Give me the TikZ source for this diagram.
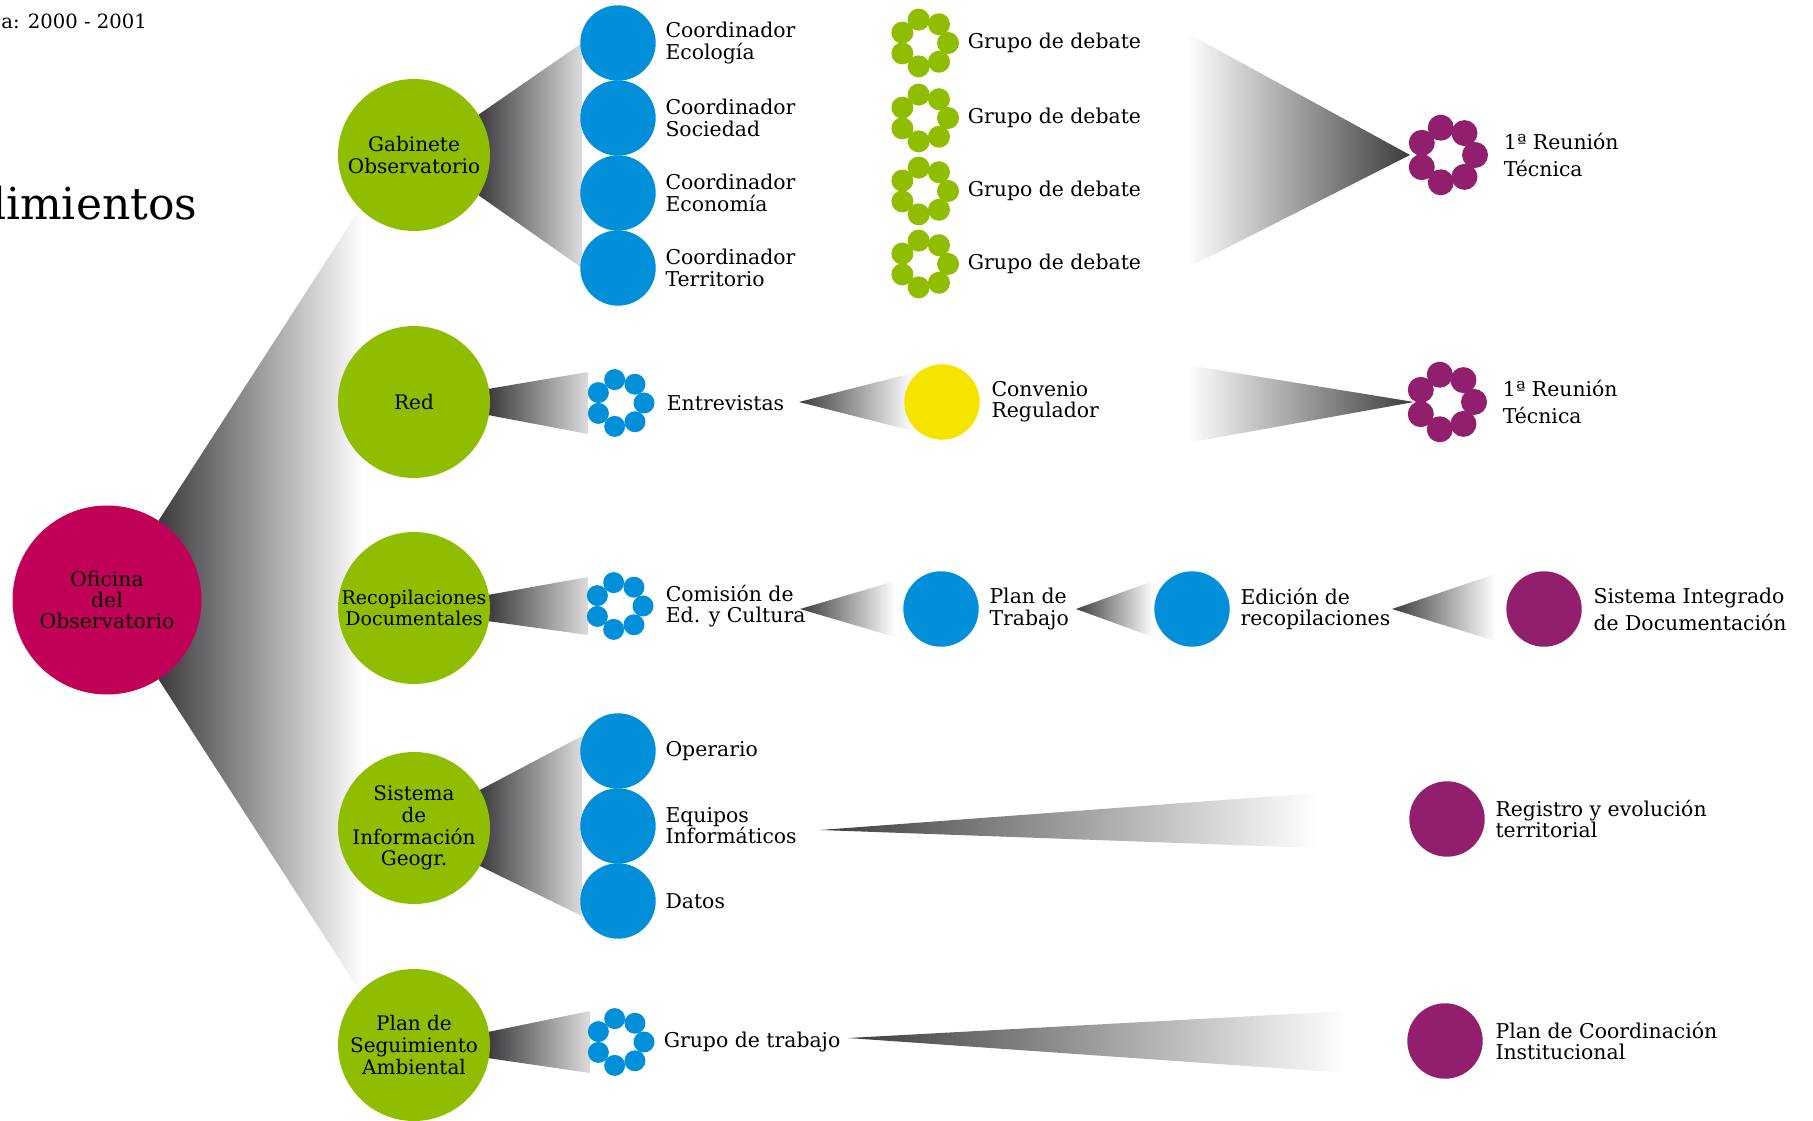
\documentclass[tikz,border=0pt]{standalone}
\usepackage{fontspec}
\setmainfont{DejaVu Serif}
\usetikzlibrary{positioning,backgrounds}

\definecolor{magobs}{RGB}{193,0,88}
\definecolor{greenobs}{RGB}{143,190,0}
\definecolor{blueobs}{RGB}{0,143,216}
\definecolor{purpobs}{RGB}{146,31,110}
\definecolor{yellowobs}{RGB}{245,228,0}
\definecolor{shadow}{RGB}{60,60,62}

\begin{document}
\begin{tikzpicture}[
        x=1pt, y=1pt,
        hub/.style={circle, fill=magobs, minimum size=94.5pt, inner sep=0, align=center, font=\fontsize{10.2}{10.6}\selectfont},
        area/.style={circle, fill=greenobs, minimum size=76pt, inner sep=0, align=center, font=\fontsize{10}{10.85}\selectfont},
        agent/.style={circle, fill=blueobs, minimum size=37.7pt, inner sep=0},
        result/.style={circle, fill=purpobs, minimum size=37.7pt, inner sep=0},
        ringspot/.style={circle, minimum size=35pt, inner sep=0},
        bigspot/.style={circle, minimum size=41pt, inner sep=0},
        lbl/.style={inner sep=0, align=left, font=\fontsize{10.2}{10.6}\selectfont},
        widelbl/.style={inner sep=0, align=left, font=\fontsize{10.2}{13.5}\selectfont},
        fanout/.style={left color=shadow, right color=white},
        fanin/.style={left color=white, right color=shadow}
    ]
    \useasboundingbox (0,0) rectangle (906.5,560);

    % Heading, cut by the page border
    \node (period) at (0.5,545.5) [anchor=base west, inner sep=0, font=\fontsize{9.8}{11}\selectfont] {a: 2000 - 2001};
    \node (heading) at (98.8,450) [anchor=base east, inner sep=0, font=\fontsize{22}{24}\selectfont] {dimientos};

    % Office and working areas
    \node (ofi) at (53.5,260) [hub] {Oficina\\del\\Observatorio};
    \node (gab) at (207,482.5) [area] {Gabinete\\Observatorio};
    \node (net) at (207,359) [area] {Red};
    \node (rec) at (207,256) [area, font=\fontsize{9.5}{10.85}\selectfont] {Recopilaciones\\Documentales};
    \node (sig) at (207,146) [area] {Sistema\\de\\Información\\Geogr.};
    \node (pla) at (207,37.5) [area] {Plan de\\Seguimiento\\Ambiental};

    % Gabinete: coordinators, debate groups, first meeting
    \node (eco) at (309,538.5) [agent] {};
    \node (soc) at (309,501) [agent] {};
    \node (ecn) at (309,463.5) [agent] {};
    \node (ter) at (309,426) [agent] {};
    \node (ecotxt) [lbl, right=4.5pt of eco] {Coordinador\\Ecología};
    \node (soctxt) [lbl, right=4.5pt of soc] {Coordinador\\Sociedad};
    \node (ecntxt) [lbl, right=4.5pt of ecn] {Coordinador\\Economía};
    \node (tertxt) [lbl, right=4.5pt of ter] {Coordinador\\Territorio};

    \node (gd1) at (462,538.5) [ringspot] {};
    \node (gd2) at (462,501) [ringspot] {};
    \node (gd3) at (462,464.5) [ringspot] {};
    \node (gd4) at (462,428) [ringspot] {};
    \foreach \g in {gd1,gd2,gd3,gd4}
        \node (lbl\g) [lbl, right=4pt of \g] {Grupo de debate};

    \node (reu1) at (723.5,482.5) [bigspot] {};
    \node (reu1txt) [widelbl, right=7.5pt of reu1] {1ª Reunión\\Técnica};

    % Red
    \node (ent) at (310,358.5) [ringspot] {};
    \node (enttxt) [lbl, right=5.5pt of ent] {Entrevistas};
    \node (conv) at (471,359) [agent, fill=yellowobs] {};
    \node (convtxt) [lbl, right=5.5pt of conv] {Convenio\\Regulador};
    \node (reu2) at (723,359) [bigspot] {};
    \node (reu2txt) [widelbl, right=7.5pt of reu2] {1ª Reunión\\Técnica};

    % Recopilaciones
    \node (com) at (309.5,257) [ringspot] {};
    \node (comtxt) [lbl, right=5.5pt of com] {Comisión de\\Ed. y Cultura};
    \node (ptr) at (470.5,255.5) [agent] {};
    \node (ptrtxt) [lbl, right=5pt of ptr] {Plan de\\Trabajo};
    \node (edi) at (596,255.5) [agent] {};
    \node (editxt) [lbl, right=5pt of edi] {Edición de\\recopilaciones};
    \node (sid) at (772,255.5) [result] {};
    \node (sidtxt) [widelbl, right=5.5pt of sid] {Sistema Integrado\\de Documentación};

    % Sistema de Informacion
    \node (ope) at (309,184.5) [agent] {};
    \node (equ) at (309,147) [agent] {};
    \node (dat) at (309,109.5) [agent] {};
    \node (opetxt) [lbl, right=4.5pt of ope] {Operario};
    \node (equtxt) [lbl, right=4.5pt of equ] {Equipos\\Informáticos};
    \node (dattxt) [lbl, right=4.5pt of dat] {Datos};
    \node (reg) at (723.5,150.5) [result] {};
    \node (regtxt) [lbl, right=5pt of reg] {Registro y evolución\\territorial};

    % Plan de Seguimiento
    \node (gtr) at (310,39) [ringspot] {};
    \node (gtrtxt) [lbl, right=4pt of gtr] {Grupo de trabajo};
    \node (pco) at (722.5,39.5) [result] {};
    \node (pcotxt) [lbl, right=6pt of pco] {Plan de Coordinación\\Institucional};

    % Rings of small circles
    \foreach \s in {gd1,gd2,gd3,gd4}
        \foreach \k in {0,...,6}
            \fill[greenobs] (\s.center) ++(\k*360/7:12pt) circle[radius=5.5pt];
    \foreach \s in {ent,com,gtr}
        \foreach \k in {0,...,6}
            \fill[blueobs] (\s.center) ++(\k*360/7:12pt) circle[radius=5.25pt];
    \foreach \s in {reu1,reu2}
        \foreach \k in {0,...,6}
            \fill[purpobs] (\s.center) ++(\k*360/7:14pt) circle[radius=6.5pt];

    % Fans behind the circles
    \begin{scope}[on background layer]
        \shade[fanout] (ofi.57) -- ([shift={(-25.5pt,-24.5pt)}]gab.center) -- ([shift={(-25.5pt,24.5pt)}]pla.center) -- (ofi.-57) -- cycle;
        \shade[fanout, right color=shadow!18] (gab.32) -- ([xshift=-18pt]eco.center) -- ([xshift=-18pt]ter.center) -- (gab.-32) -- cycle;
        \shade[fanout, right color=shadow!18] (net.10) -- ([shift={(-16pt,15.5pt)}]ent.center) -- ([shift={(-16pt,-15.5pt)}]ent.center) -- (net.-10) -- cycle;
        \shade[fanout, right color=shadow!18] (rec.10) -- ([shift={(-15.5pt,14.5pt)}]com.center) -- ([shift={(-15.5pt,-14.5pt)}]com.center) -- (rec.-10) -- cycle;
        \shade[fanout, right color=shadow!18] (sig.30) -- ([shift={(-18pt,7.5pt)}]ope.center) -- ([shift={(-18pt,-7.5pt)}]dat.center) -- (sig.-30) -- cycle;
        \shade[fanout, right color=shadow!18] (pla.10) -- ([shift={(-15pt,15.5pt)}]gtr.center) -- ([shift={(-15pt,-15.5pt)}]gtr.center) -- (pla.-10) -- cycle;

        % towards the first meetings
        \shade[fanin] ([shift={(-130pt,61pt)}]reu1.center) -- ([xshift=-18.5pt]reu1.center) -- ([shift={(-130pt,-56.5pt)}]reu1.center) -- cycle;
        \shade[fanin] ([shift={(-129.5pt,18.5pt)}]reu2.center) -- ([xshift=-16pt]reu2.center) -- ([shift={(-129.5pt,-20.5pt)}]reu2.center) -- cycle;

        % pointing back along the rows
        \shade[fanout] ([xshift=-71.5pt]conv.center) -- ([shift={(-14.5pt,14.5pt)}]conv.center) -- ([shift={(-14.5pt,-14.5pt)}]conv.center) -- cycle;
        \shade[fanout] ([xshift=-70.5pt]ptr.center) -- ([shift={(-23pt,14pt)}]ptr.center) -- ([shift={(-23pt,-14pt)}]ptr.center) -- cycle;
        \shade[fanout] ([xshift=-58pt]edi.center) -- ([shift={(-19.5pt,14pt)}]edi.center) -- ([shift={(-19.5pt,-14pt)}]edi.center) -- cycle;
        \shade[fanout] ([xshift=-76pt]sid.center) -- ([shift={(-24.5pt,17.5pt)}]sid.center) -- ([shift={(-24.5pt,-16pt)}]sid.center) -- cycle;
        \shade[fanout] ([shift={(-313.5pt,-5.5pt)}]reg.center) -- ([shift={(-65pt,13pt)}]reg.center) -- ([shift={(-65pt,-14.5pt)}]reg.center) -- cycle;
        \shade[fanout] ([shift={(-298.5pt,1.5pt)}]pco.center) -- ([shift={(-49pt,15pt)}]pco.center) -- ([shift={(-49pt,-16pt)}]pco.center) -- cycle;
    \end{scope}

\end{tikzpicture}
\end{document}
